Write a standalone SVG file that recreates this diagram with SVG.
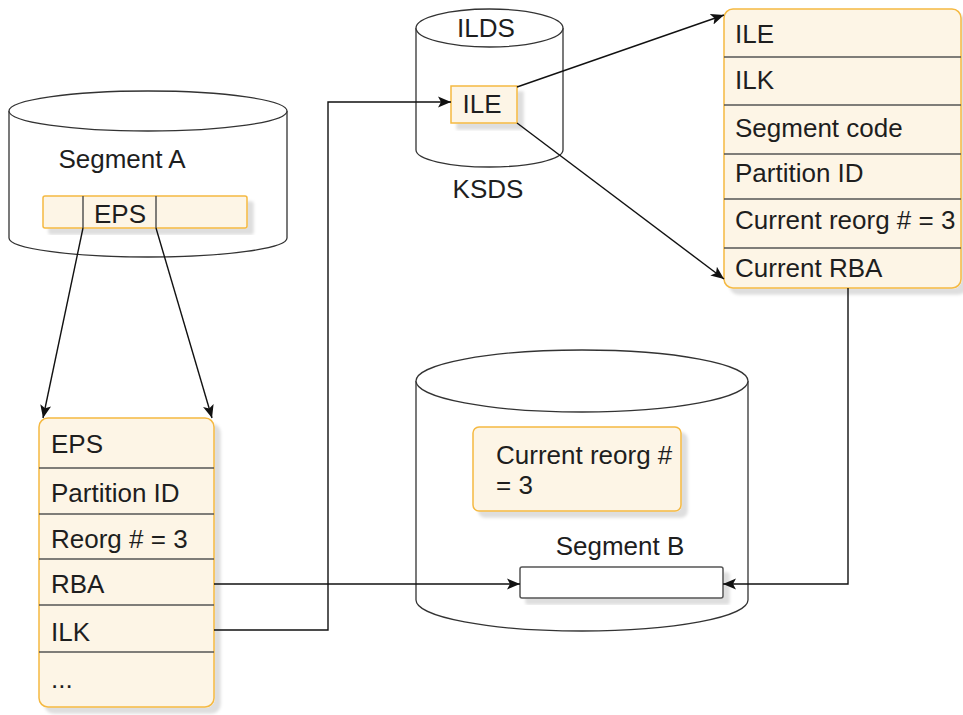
<svg xmlns="http://www.w3.org/2000/svg" width="963" height="715" viewBox="0 0 963 715">
<style>
text{font-family:"Liberation Sans",Arial,sans-serif;font-size:26px;fill:#1e1e1e}
.cyl{fill:#fff;stroke:#333;stroke-width:1.3}
.tbl{fill:#fdf5e6;stroke:#f5b942;stroke-width:1.5}
.div{stroke:#555;stroke-width:1.5}
.edge{fill:none;stroke:#111;stroke-width:1.4}
</style>
<defs>
<filter id="sh" x="-10%" y="-10%" width="130%" height="130%">
<feDropShadow dx="6" dy="6" stdDeviation="1.5" flood-color="#000" flood-opacity="0.13"/>
</filter>
<marker id="arr" markerUnits="userSpaceOnUse" markerWidth="14" markerHeight="12" refX="13" refY="6" orient="auto">
<path d="M0,0.5 L13,6 L0,11.5 L3,6 z" fill="#111"/>
</marker>
</defs>

<g id="segmentA">
<path class="cyl" d="M9,111 L9,238 A139,19 0 0 0 287,238 L287,111"/>
<ellipse class="cyl" cx="148" cy="111" rx="139" ry="20"/>
<text x="122" y="168" text-anchor="middle">Segment A</text>
<rect x="43" y="196" width="204" height="32" rx="2" fill="#fdf5e6" stroke="#f5b942" stroke-width="1.5" filter="url(#sh)"/>
<line class="div" x1="83" y1="196" x2="83" y2="228"/>
<line class="div" x1="156" y1="196" x2="156" y2="228"/>
<text x="120" y="223" text-anchor="middle">EPS</text>
</g>

<g id="ilds">
<path class="cyl" d="M416,28 L416,150 A73.5,17 0 0 0 563,150 L563,28"/>
<ellipse class="cyl" cx="489.5" cy="28" rx="73.5" ry="19"/>
<text x="486" y="37" text-anchor="middle">ILDS</text>
<rect x="451" y="86" width="66" height="37" fill="#fdf5e6" stroke="#f5b942" stroke-width="1.5" filter="url(#sh)"/>
<text x="482" y="113" text-anchor="middle">ILE</text>
<text x="488" y="198" text-anchor="middle">KSDS</text>
</g>

<g id="ileRecord">
<rect class="tbl" x="724" y="9" width="237" height="279" rx="9" filter="url(#sh)"/>
<line class="div" x1="724" y1="57" x2="961" y2="57"/>
<line class="div" x1="724" y1="105" x2="961" y2="105"/>
<line class="div" x1="724" y1="154" x2="961" y2="154"/>
<line class="div" x1="724" y1="199" x2="961" y2="199"/>
<line class="div" x1="724" y1="248" x2="961" y2="248"/>
<text x="735" y="43">ILE</text>
<text x="735" y="89">ILK</text>
<text x="735" y="137">Segment code</text>
<text x="735" y="182">Partition ID</text>
<text x="735" y="229">Current reorg # = 3</text>
<text x="735" y="277">Current RBA</text>
</g>

<g id="epsRecord">
<rect class="tbl" x="39" y="418" width="175" height="289" rx="9" filter="url(#sh)"/>
<line class="div" x1="39" y1="468" x2="214" y2="468"/>
<line class="div" x1="39" y1="514" x2="214" y2="514"/>
<line class="div" x1="39" y1="559" x2="214" y2="559"/>
<line class="div" x1="39" y1="605" x2="214" y2="605"/>
<line class="div" x1="39" y1="652" x2="214" y2="652"/>
<text x="51" y="453">EPS</text>
<text x="51" y="502">Partition ID</text>
<text x="51" y="548">Reorg # = 3</text>
<text x="51" y="593">RBA</text>
<text x="51" y="641">ILK</text>
<text x="51" y="688">...</text>
</g>

<g id="segmentB">
<path class="cyl" d="M416,381 L416,600 A166,31 0 0 0 748,600 L748,381"/>
<ellipse class="cyl" cx="582" cy="381" rx="166" ry="31"/>
<rect x="473" y="427" width="208" height="84" rx="6" fill="#fdf5e6" stroke="#f5b942" stroke-width="1.5" filter="url(#sh)"/>
<text x="496" y="464">Current reorg #</text>
<text x="496" y="494">= 3</text>
<text x="620" y="555" text-anchor="middle">Segment B</text>
<rect x="520" y="567" width="203" height="31" rx="2" fill="#fff" stroke="#555" stroke-width="1.5" filter="url(#sh)"/>
</g>

<g id="connectors">
<line class="edge" x1="83" y1="228" x2="43" y2="418" marker-end="url(#arr)"/>
<line class="edge" x1="156" y1="228" x2="212" y2="418" marker-end="url(#arr)"/>
<line class="edge" x1="214" y1="584" x2="520" y2="584" marker-end="url(#arr)"/>
<polyline class="edge" points="214,630 328,630 328,102 451,102" marker-end="url(#arr)"/>
<line class="edge" x1="517" y1="87" x2="724" y2="15" marker-end="url(#arr)"/>
<line class="edge" x1="517" y1="123" x2="724" y2="279" marker-end="url(#arr)"/>
<polyline class="edge" points="848,288 848,584 723,584" marker-end="url(#arr)"/>
</g>
</svg>
